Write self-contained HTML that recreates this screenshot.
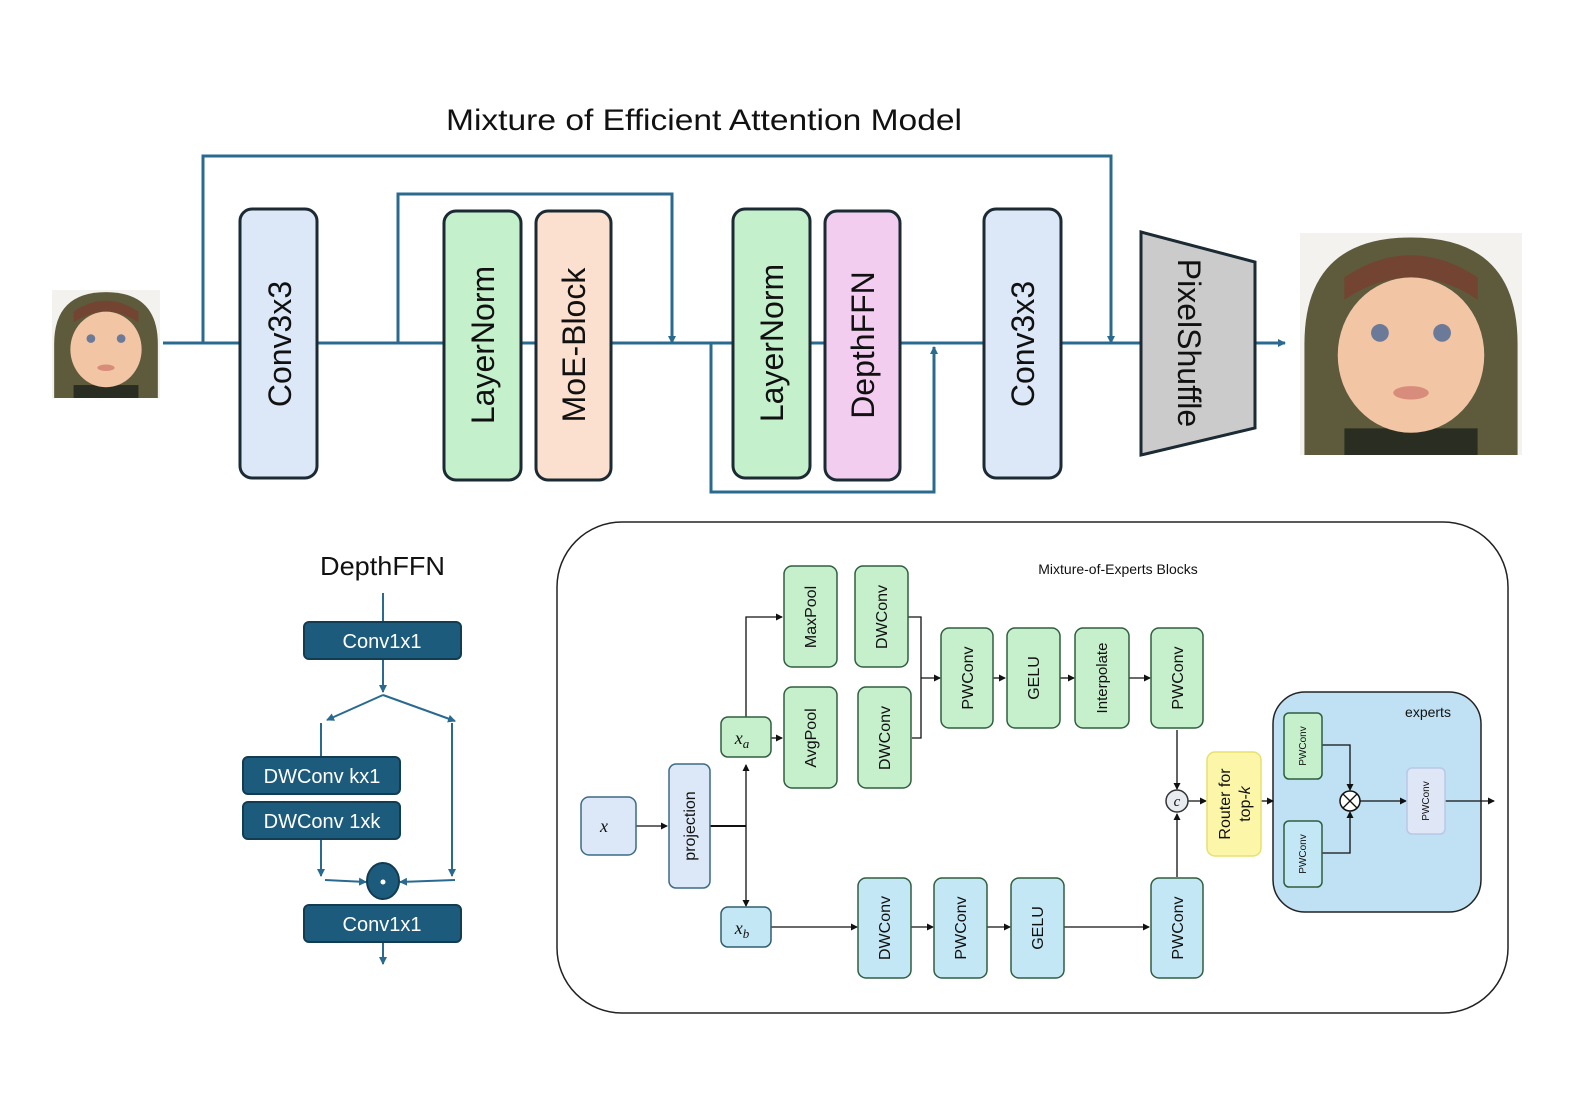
<!DOCTYPE html>
<html><head><meta charset="utf-8"><style>
html,body{margin:0;padding:0;background:#fff;}
svg{display:block;}
</style></head><body>
<svg width="1578" height="1115" viewBox="0 0 1578 1115" xmlns="http://www.w3.org/2000/svg" font-family="Liberation Sans, DejaVu Sans, sans-serif">
<defs>
<marker id="a" markerWidth="8" markerHeight="8" refX="7" refY="4" orient="auto" markerUnits="userSpaceOnUse"><path d="M0,0 L8,4 L0,8 z" fill="#2a6a90"/></marker>
<marker id="k" markerWidth="7" markerHeight="7" refX="6" refY="3.5" orient="auto" markerUnits="userSpaceOnUse"><path d="M0,0 L7,3.5 L0,7 z" fill="#111"/></marker>
<g id="baby">
<rect x="0" y="0" width="100" height="100" fill="#f4f2ee"/>
<path d="M2,100 L2,50 Q2,2 50,2 Q98,2 98,50 L98,100 Z" fill="#5e5a3c"/>
<path d="M20,30 Q50,10 80,30 L80,20 Q50,0 20,20 Z" fill="#7a3a2c" opacity="0.7"/>
<rect x="20" y="88" width="60" height="12" fill="#2a2e22"/>
<ellipse cx="50" cy="55" rx="33" ry="35" fill="#f2c5a4"/>
<circle cx="36" cy="45" r="4" fill="#6b7a98"/><circle cx="64" cy="45" r="4" fill="#6b7a98"/>
<ellipse cx="50" cy="72" rx="8" ry="3" fill="#d88c7c"/>
</g>
</defs>

<text x="446" y="130" font-size="30" textLength="516" lengthAdjust="spacingAndGlyphs" fill="#111">Mixture of Efficient Attention Model</text>

<use href="#baby" transform="translate(52,290) scale(1.08)"/>
<use href="#baby" transform="translate(1300,233) scale(2.22)"/>

<g stroke="#2a6a90" stroke-width="3" fill="none">
<line x1="163" y1="343" x2="1285" y2="343" marker-end="url(#a)"/>
<polyline points="203,343 203,156 1111,156 1111,343" marker-end="url(#a)"/>
<polyline points="398,343 398,194 672,194 672,343" marker-end="url(#a)"/>
<polyline points="711,343 711,492 934,492 934,347" marker-end="url(#a)"/>
</g>

<g stroke="#1b2a33" stroke-width="3">
<rect x="240" y="209" width="77" height="269" rx="12" fill="#dce8f7"/>
<rect x="444" y="211" width="77" height="269" rx="12" fill="#c5f0cc"/>
<rect x="536" y="211" width="75" height="269" rx="12" fill="#fbe0d0"/>
<rect x="733" y="209" width="77" height="269" rx="12" fill="#c5f0cc"/>
<rect x="825" y="211" width="75" height="269" rx="12" fill="#f2cdf0"/>
<rect x="984" y="209" width="77" height="269" rx="12" fill="#dce8f7"/>
<polygon points="1141,232 1255,262 1255,428 1141,455" fill="#cbcbcb"/>
</g>
<g font-size="32" fill="#111" text-anchor="middle">
<text transform="translate(291,344) rotate(-90)">Conv3x3</text>
<text transform="translate(494,345) rotate(-90)">LayerNorm</text>
<text transform="translate(585,345) rotate(-90)">MoE-Block</text>
<text transform="translate(783,343) rotate(-90)">LayerNorm</text>
<text transform="translate(874,345) rotate(-90)">DepthFFN</text>
<text transform="translate(1034,344) rotate(-90)">Conv3x3</text>
<text transform="translate(1178,343) rotate(90)">PixelShuffle</text>
</g>

<text x="320" y="575" font-size="26" textLength="125" lengthAdjust="spacingAndGlyphs" fill="#111">DepthFFN</text>
<g stroke="#2a6a90" stroke-width="2" fill="none">
<line x1="383" y1="593" x2="383" y2="622"/>
<line x1="383" y1="659" x2="383" y2="692" marker-end="url(#a)"/>
<line x1="383" y1="695" x2="327" y2="720" marker-end="url(#a)"/>
<line x1="383" y1="695" x2="455" y2="721" marker-end="url(#a)"/>
<line x1="321" y1="723" x2="321" y2="757"/>
<line x1="321" y1="839" x2="321" y2="876" marker-end="url(#a)"/>
<line x1="452" y1="723" x2="452" y2="876" marker-end="url(#a)"/>
<line x1="325" y1="880" x2="366" y2="882" marker-end="url(#a)"/>
<line x1="455" y1="880" x2="400" y2="882" marker-end="url(#a)"/>
<line x1="383" y1="942" x2="383" y2="964" marker-end="url(#a)"/>
</g>
<g fill="#1d5b7c" stroke="#123c52" stroke-width="2">
<rect x="304" y="622" width="157" height="37" rx="5"/>
<rect x="243" y="757" width="157" height="37" rx="5"/>
<rect x="243" y="802" width="157" height="37" rx="5"/>
<rect x="304" y="905" width="157" height="37" rx="5"/>
<ellipse cx="383" cy="881" rx="16" ry="18"/>
</g>
<circle cx="383" cy="882" r="2.5" fill="#fff"/>
<g font-size="20" fill="#fff" text-anchor="middle">
<text x="382" y="648">Conv1x1</text>
<text x="322" y="783">DWConv kx1</text>
<text x="322" y="828">DWConv 1xk</text>
<text x="382" y="931">Conv1x1</text>
</g>

<rect x="557" y="522" width="951" height="491" rx="65" fill="none" stroke="#222" stroke-width="1.5"/>
<text x="1118" y="574" font-size="14" text-anchor="middle" fill="#111">Mixture-of-Experts Blocks</text>
<rect x="1273" y="692" width="208" height="220" rx="32" fill="#bfe1f3" stroke="#222" stroke-width="1.5"/>
<text x="1428" y="717" font-size="14" text-anchor="middle" fill="#111">experts</text>

<g stroke="#111" stroke-width="1.3" fill="none">
<line x1="636" y1="826" x2="667" y2="826" marker-end="url(#k)"/>
<line x1="710" y1="826" x2="746" y2="826" stroke-width="2"/>
<line x1="746" y1="826" x2="746" y2="765" marker-end="url(#k)"/>
<line x1="746" y1="826" x2="746" y2="906" marker-end="url(#k)"/>
<polyline points="746,717 746,617 782,617" marker-end="url(#k)"/>
<line x1="771" y1="738" x2="782" y2="738" marker-end="url(#k)"/>
<polyline points="908,617 921,617 921,738 912,738"/>
<line x1="921" y1="678" x2="940" y2="678" marker-end="url(#k)"/>
<line x1="993" y1="678" x2="1005" y2="678" marker-end="url(#k)"/>
<line x1="1060" y1="678" x2="1074" y2="678" marker-end="url(#k)"/>
<line x1="1129" y1="678" x2="1150" y2="678" marker-end="url(#k)"/>
<line x1="1177" y1="730" x2="1177" y2="789" marker-end="url(#k)"/>
<line x1="1177" y1="877" x2="1177" y2="814" marker-end="url(#k)"/>
<line x1="1188" y1="801" x2="1206" y2="801" marker-end="url(#k)"/>
<line x1="1261" y1="801" x2="1273" y2="801" marker-end="url(#k)"/>
<line x1="771" y1="927" x2="857" y2="927" marker-end="url(#k)"/>
<line x1="911" y1="927" x2="933" y2="927" marker-end="url(#k)"/>
<line x1="987" y1="927" x2="1010" y2="927" marker-end="url(#k)"/>
<line x1="1064" y1="927" x2="1149" y2="927" marker-end="url(#k)"/>
<polyline points="1322,745 1350,745 1350,790" marker-end="url(#k)"/>
<polyline points="1322,853 1350,853 1350,812" marker-end="url(#k)"/>
<line x1="1360" y1="801" x2="1406" y2="801" marker-end="url(#k)"/>
<line x1="1445" y1="801" x2="1494" y2="801" marker-end="url(#k)"/>
</g>

<g stroke-width="1.5">
<rect x="581" y="797" width="55" height="58" rx="8" fill="#dce8f7" stroke="#3d6a86"/>
<rect x="669" y="764" width="41" height="124" rx="7" fill="#dce8f7" stroke="#3d6a86"/>
<rect x="721" y="717" width="50" height="40" rx="7" fill="#c6efcc" stroke="#2e5e3e"/>
<rect x="721" y="907" width="50" height="40" rx="7" fill="#c4e7f5" stroke="#2e5e6e"/>
<g fill="#c6efcc" stroke="#2e5e3e">
<rect x="784" y="566" width="53" height="101" rx="8"/>
<rect x="855" y="566" width="53" height="101" rx="8"/>
<rect x="784" y="687" width="53" height="101" rx="8"/>
<rect x="858" y="687" width="53" height="101" rx="8"/>
<rect x="941" y="628" width="52" height="100" rx="8"/>
<rect x="1007" y="628" width="53" height="100" rx="8"/>
<rect x="1075" y="628" width="54" height="100" rx="8"/>
<rect x="1151" y="628" width="52" height="100" rx="8"/>
<rect x="1284" y="713" width="38" height="66" rx="5"/>
</g>
<g fill="#c4e7f5" stroke="#2e5e3e">
<rect x="858" y="878" width="53" height="100" rx="8"/>
<rect x="934" y="878" width="53" height="100" rx="8"/>
<rect x="1011" y="878" width="53" height="100" rx="8"/>
<rect x="1151" y="878" width="52" height="100" rx="8"/>
<rect x="1284" y="821" width="38" height="66" rx="5"/>
</g>
<rect x="1407" y="768" width="38" height="66" rx="5" fill="#dfe6f6" stroke="#b8c8e6"/>
<rect x="1207" y="752" width="54" height="104" rx="8" fill="#fcf7a8" stroke="#e8e070"/>
<circle cx="1177" cy="801" r="11" fill="#e8ecf0" stroke="#333"/>
<circle cx="1350" cy="801" r="10" fill="#fff" stroke="#111"/>
</g>
<g stroke="#111" stroke-width="1.3"><line x1="1343" y1="794" x2="1357" y2="808"/><line x1="1357" y1="794" x2="1343" y2="808"/></g>

<g font-family="Liberation Serif, serif" font-style="italic" font-size="18" fill="#111" text-anchor="middle">
<text x="604" y="832">x</text>
<text x="742" y="744">x<tspan font-size="13" dy="4">a</tspan></text>
<text x="742" y="934">x<tspan font-size="13" dy="4">b</tspan></text>
<text x="1177" y="806" font-size="15">c</text>
</g>
<g font-size="16" fill="#111" text-anchor="middle">
<text transform="translate(695,826) rotate(-90)">projection</text>
<text transform="translate(816,617) rotate(-90)">MaxPool</text>
<text transform="translate(887,617) rotate(-90)">DWConv</text>
<text transform="translate(816,738) rotate(-90)">AvgPool</text>
<text transform="translate(890,738) rotate(-90)">DWConv</text>
<text transform="translate(973,678) rotate(-90)">PWConv</text>
<text transform="translate(1039,678) rotate(-90)">GELU</text>
<text transform="translate(1107,678) rotate(-90)" font-size="15">Interpolate</text>
<text transform="translate(1183,678) rotate(-90)">PWConv</text>
<text transform="translate(890,928) rotate(-90)">DWConv</text>
<text transform="translate(966,928) rotate(-90)">PWConv</text>
<text transform="translate(1043,928) rotate(-90)">GELU</text>
<text transform="translate(1183,928) rotate(-90)">PWConv</text>
<text transform="translate(1230,804) rotate(-90)">Router for</text>
<text transform="translate(1250,804) rotate(-90)">top-<tspan font-style="italic">k</tspan></text>
<text transform="translate(1306,746) rotate(-90)" font-size="10">PWConv</text>
<text transform="translate(1306,854) rotate(-90)" font-size="10">PWConv</text>
<text transform="translate(1429,801) rotate(-90)" font-size="10">PWConv</text>
</g>
</svg>
</body></html>
